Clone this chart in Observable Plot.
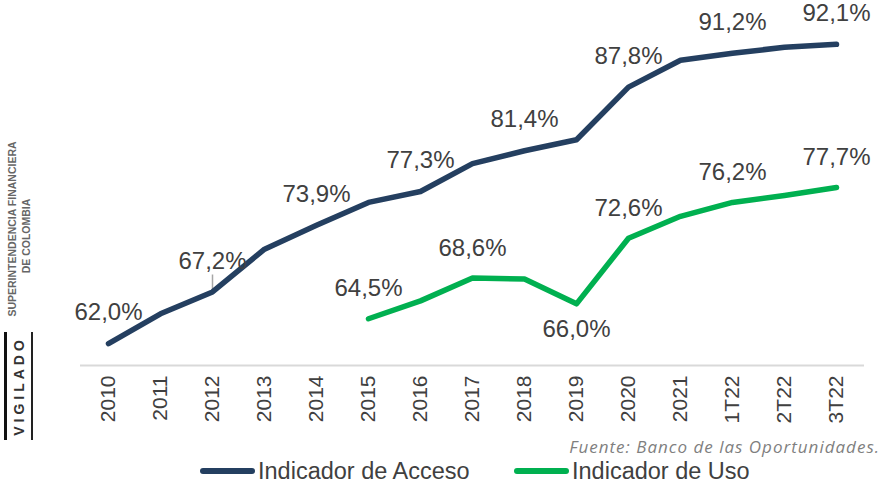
<!DOCTYPE html>
<html>
<head>
<meta charset="utf-8">
<script src="https://cdn.jsdelivr.net/npm/d3@7"></script>
<script src="https://cdn.jsdelivr.net/npm/@observablehq/plot@0.6"></script>
<style>
  html, body { margin: 0; padding: 0; background: #fff; }
  #wrap { position: relative; width: 885px; height: 486px; overflow: hidden; font-family: "Liberation Sans", Arial, sans-serif; }
  #chart { position: absolute; left: 0; top: 0; }
  #caption { position: absolute; right: 5px; top: 437px; line-height: 20px; font-family: "Open Sans", sans-serif; font-style: italic; font-size: 17px; letter-spacing: 1px; color: #7f7f7f; white-space: nowrap; }
  .leg { position: absolute; top: 459px; line-height: 24px; display: flex; align-items: center; font-size: 23.5px; color: #404040; white-space: nowrap; }
  .sw { width: 55px; height: 6px; border-radius: 3px; margin-right: 3px; }
  #vig { position: absolute; left: 4px; top: 332px; width: 29px; height: 108px; border-left: 3px solid #111; border-right: 2px solid #222; box-sizing: border-box; }
  #vig span { position: absolute; left: 50%; top: 50%; transform: translate(-50%, -50%) rotate(-90deg); font-weight: bold; font-size: 14px; letter-spacing: 4px; color: #333; white-space: nowrap; }
  .sfc { position: absolute; transform: translate(-50%, -50%) rotate(-90deg); font-size: 10px; font-weight: bold; color: #666; white-space: nowrap; }
</style>
</head>
<body>
<div id="wrap">
  <div id="chart"></div>
  <div id="vig"><span>VIGILADO</span></div>
  <div class="sfc" style="left:12px; top:229px; font-size:10.5px;">SUPERINTENDENCIA FINANCIERA</div>
  <div class="sfc" style="left:26px; top:236px; font-size:10.5px;">DE COLOMBIA</div>
  <div id="caption">Fuente: Banco de las Oportunidades.</div>
  <div class="leg" style="left:200px;"><div class="sw" style="background:#243F60"></div>Indicador de Acceso</div>
  <div class="leg" style="left:514px;"><div class="sw" style="background:#00B050"></div>Indicador de Uso</div>
</div>
<script>
const categories = ["2010","2011","2012","2013","2014","2015","2016","2017","2018","2019","2020","2021","1T22","2T22","3T22"];
const acceso = [62.0, 65.0, 67.2, 71.5, 73.9, 76.2, 77.3, 80.1, 81.4, 82.5, 87.8, 90.5, 91.2, 91.8, 92.1];
const uso = [null, null, null, null, null, 64.5, 66.3, 68.6, 68.5, 66.0, 72.6, 74.8, 76.2, 76.9, 77.7];
const accesoLabelled = ["2010","2012","2014","2016","2018","2020","1T22","3T22"];
const usoLabelledAbove = ["2015","2017","2020","1T22","3T22"];
const usoLabelledBelow = ["2019"];
const leaderAt = ["2012"];

const accData = categories.map((c, i) => ({x: c, v: acceso[i]}));
const usoData = categories.map((c, i) => ({x: c, v: uso[i]})).filter(d => d.v != null);
const fmt = v => v.toFixed(1).replace(".", ",") + "%";
const accLab = accData.filter(d => accesoLabelled.includes(d.x));
const usoAbove = usoData.filter(d => usoLabelledAbove.includes(d.x));
const usoBelow = usoData.filter(d => usoLabelledBelow.includes(d.x));
const leaders = accData.filter(d => leaderAt.includes(d.x)).map(d => ({x: d.x, y1: d.v + 0.1, y2: d.v + 1.7}));

const navy = "#243F60", green = "#00B050", txt = "#404040";
const font = "Liberation Sans, Arial, sans-serif";

const chart = Plot.plot({
  width: 885,
  height: 445,
  marginLeft: 80,
  marginRight: 21,
  marginTop: 10,
  marginBottom: 80,
  style: {fontFamily: font, color: txt, background: "transparent"},
  x: {type: "point", domain: categories, padding: 0.5, label: null},
  y: {domain: [59.8, 95.5], axis: null},
  marks: [
    Plot.ruleY([59.8], {stroke: "#d9d9d9", strokeWidth: 2}),
    Plot.axisX({tickRotate: -90, tickSize: 0, tickPadding: 10, fontSize: 21, fill: txt, label: null}),
    Plot.ruleX(leaders, {x: "x", y1: "y1", y2: "y2", stroke: "#a6a6a6", strokeWidth: 1.5}),
    Plot.line(accData, {x: "x", y: "v", stroke: navy, strokeWidth: 5.5, strokeLinecap: "round", strokeLinejoin: "round"}),
    Plot.line(usoData, {x: "x", y: "v", stroke: green, strokeWidth: 5.5, strokeLinecap: "round", strokeLinejoin: "round"}),
    Plot.text(accLab, {x: "x", y: "v", text: d => fmt(d.v), dy: -31, fontSize: 24, fill: txt}),
    Plot.text(usoAbove, {x: "x", y: "v", text: d => fmt(d.v), dy: -30, fontSize: 24, fill: txt}),
    Plot.text(usoBelow, {x: "x", y: "v", text: d => fmt(d.v), dy: 25, fontSize: 24, fill: txt})
  ]
});
document.getElementById("chart").appendChild(chart);
</script>
</body>
</html>
